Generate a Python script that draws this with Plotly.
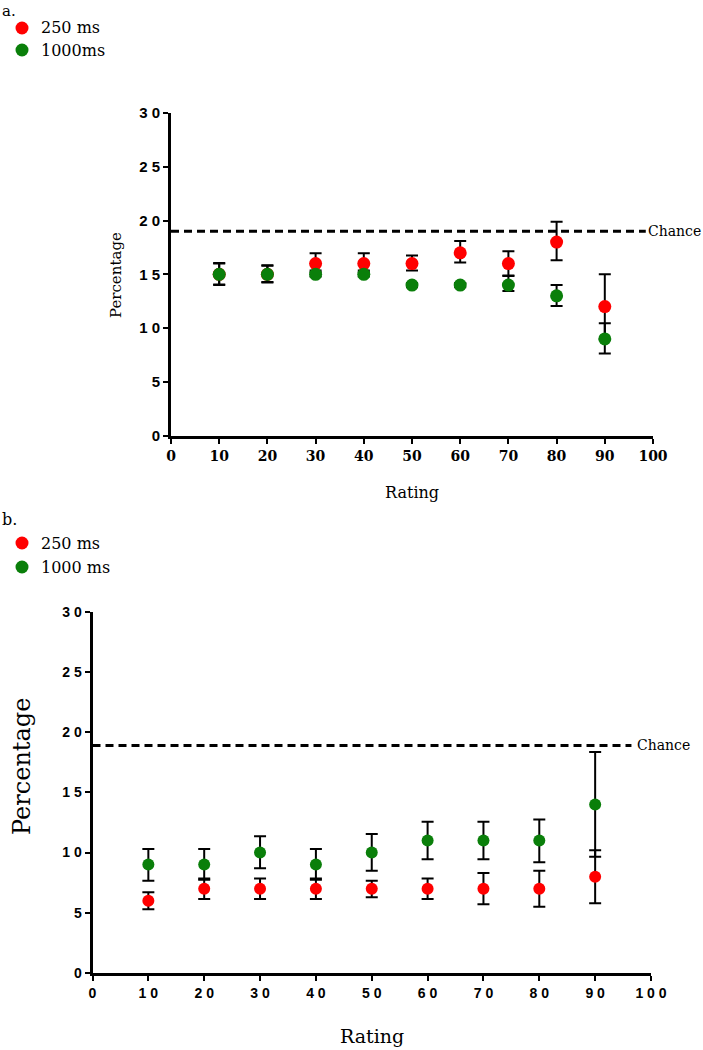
import plotly.graph_objects as go

rating = [10, 20, 30, 40, 50, 60, 70, 80, 90]

# Panel a
a_250 = [15, 15, 16, 16, 16, 17, 16, 18, 12]
a_250_up = [1.0, 0.85, 0.95, 0.95, 0.75, 1.1, 1.15, 1.9, 3.0]
a_250_dn = [1.0, 0.7, 0.65, 0.65, 0.65, 0.9, 1.15, 1.7, 3.0]
a_1000 = [15, 15, 15, 15, 14, 14, 14, 13, 9]
a_1000_up = [1.05, 0.8, 0.2, 0.2, 0.2, 0.2, 0.9, 1.0, 1.45]
a_1000_dn = [0.95, 0.75, 0.2, 0.2, 0.2, 0.2, 0.55, 0.95, 1.35]

# Panel b
b_250 = [6, 7, 7, 7, 7, 7, 7, 7, 8]
b_250_up = [0.7, 0.85, 0.85, 0.85, 0.65, 0.85, 1.3, 1.5, 2.2]
b_250_dn = [0.7, 0.85, 0.85, 0.85, 0.7, 0.85, 1.3, 1.5, 2.2]
b_1000 = [9, 9, 10, 9, 10, 11, 11, 11, 14]
b_1000_up = [1.3, 1.3, 1.35, 1.3, 1.55, 1.55, 1.55, 1.75, 4.35]
b_1000_dn = [1.35, 1.25, 1.3, 1.25, 1.5, 1.55, 1.55, 1.8, 4.35]

chance_a = 19.0
chance_b = 18.9

legend_a = ["250 ms", "1000ms"]
legend_b = ["250 ms", "1000 ms"]

y_ticks = [0, 5, 10, 15, 20, 25, 30]
y_ticktext = ["0", "5", "1 0", "1 5", "2 0", "2 5", "3 0"]
x_ticks = [0, 10, 20, 30, 40, 50, 60, 70, 80, 90, 100]
xa_ticktext = ["0", "10", "20", "30", "40", "50", "60", "70", "80", "90", "100"]
xb_ticktext = ["0", "1 0", "2 0", "3 0", "4 0", "5 0", "6 0", "7 0", "8 0", "9 0", "1 0 0"]

RED = "#ff0000"
GREEN = "#0a7f0a"
W, H = 703, 1050
SERIF = "DejaVu Serif"
SANS = "Liberation Sans"


def err(up, dn):
    return dict(type="data", symmetric=False, array=up, arrayminus=dn,
                color="black", thickness=2, width=6)


fig = go.Figure()
fig.add_trace(go.Scatter(x=rating, y=a_250, mode="markers", name=legend_a[0],
                         marker=dict(color=RED, size=13), error_y=err(a_250_up, a_250_dn),
                         xaxis="x", yaxis="y"))
fig.add_trace(go.Scatter(x=rating, y=a_1000, mode="markers", name=legend_a[1],
                         marker=dict(color=GREEN, size=13), error_y=err(a_1000_up, a_1000_dn),
                         xaxis="x", yaxis="y"))
fig.add_trace(go.Scatter(x=rating, y=b_250, mode="markers", name=legend_b[0],
                         marker=dict(color=RED, size=12), error_y=err(b_250_up, b_250_dn),
                         xaxis="x2", yaxis="y2"))
fig.add_trace(go.Scatter(x=rating, y=b_1000, mode="markers", name=legend_b[1],
                         marker=dict(color=GREEN, size=12), error_y=err(b_1000_up, b_1000_dn),
                         xaxis="x2", yaxis="y2"))

# Legend key markers on an overlay pixel axis
leg_x = [22, 22, 22, 22]
leg_y = [28, 50, 543, 567]
leg_col = [RED, GREEN, RED, GREEN]
fig.add_trace(go.Scatter(x=leg_x, y=leg_y, mode="markers",
                         marker=dict(color=leg_col, size=13),
                         xaxis="x3", yaxis="y3", hoverinfo="skip"))

axis_common = dict(showline=True, linewidth=3, linecolor="black", showgrid=False,
                   zeroline=False, ticks="outside", ticklen=5, tickwidth=2,
                   tickcolor="black", tickmode="array", automargin=False)

fig.update_layout(
    width=W, height=H, autosize=False,
    margin=dict(l=0, r=0, t=0, b=0, pad=0),
    paper_bgcolor="white", plot_bgcolor="rgba(0,0,0,0)",
    showlegend=False,
    xaxis=dict(axis_common, domain=[171 / W, 653 / W], range=[0, 100], anchor="y",
               tickvals=x_ticks, ticktext=xa_ticktext,
               tickfont=dict(family=SERIF, size=14, color="black", weight="bold")),
    yaxis=dict(axis_common, domain=[1 - 435.7 / H, 1 - 113 / H], range=[0, 30], anchor="x",
               tickvals=y_ticks, ticktext=y_ticktext,
               tickfont=dict(family=SANS, size=15, color="black", weight="bold")),
    xaxis2=dict(axis_common, domain=[92.5 / W, 651 / W], range=[0, 100], anchor="y2",
                tickvals=x_ticks, ticktext=xb_ticktext,
                tickfont=dict(family=SANS, size=14, color="black", weight="bold")),
    yaxis2=dict(axis_common, domain=[1 - 973 / H, 1 - 611.7 / H], range=[0, 30], anchor="x2",
                tickvals=y_ticks, ticktext=y_ticktext,
                tickfont=dict(family=SANS, size=14, color="black", weight="bold")),
    xaxis3=dict(domain=[0, 1], range=[0, W], visible=False, anchor="y3", automargin=False),
    yaxis3=dict(domain=[0, 1], range=[H, 0], visible=False, anchor="x3", automargin=False),
)

# Chance lines
fig.add_shape(type="line", xref="x", yref="y", x0=0, x1=98.5, y0=chance_a, y1=chance_a,
              line=dict(color="black", width=3, dash="8px,5px"))
fig.add_shape(type="line", xref="x2", yref="y2", x0=0, x1=96.5, y0=chance_b, y1=chance_b,
              line=dict(color="black", width=3, dash="8px,5px"))

ann = []
ann.append(dict(x=98.5, y=chance_a, xref="x", yref="y", text="Chance", showarrow=False,
                xanchor="left", yanchor="middle", xshift=0,
                font=dict(family=SERIF, size=14, color="black")))
ann.append(dict(x=96.5, y=chance_b, xref="x2", yref="y2", text="Chance", showarrow=False,
                xanchor="left", yanchor="middle", xshift=4,
                font=dict(family=SERIF, size=14, color="black")))
# Panel labels
ann.append(dict(x=0, y=1 - 0 / H, xref="paper", yref="paper", text="a.", showarrow=False,
                xanchor="left", yanchor="top", font=dict(family=SERIF, size=15, color="black")))
ann.append(dict(x=0, y=1 - 508 / H, xref="paper", yref="paper", text="b.", showarrow=False,
                xanchor="left", yanchor="top", font=dict(family=SERIF, size=16, color="black")))
# Legend texts
for txt, yy in zip(legend_a + legend_b, leg_y):
    ann.append(dict(x=39 / W, y=1 - yy / H, xref="paper", yref="paper", text=txt,
                    showarrow=False, xanchor="left", yanchor="middle",
                    font=dict(family=SERIF, size=16, color="black")))
# Axis titles
ann.append(dict(x=412 / W, y=1 - 493 / H, xref="paper", yref="paper", text="Rating",
                showarrow=False, xanchor="center", yanchor="middle",
                font=dict(family=SERIF, size=16, color="black")))
ann.append(dict(x=116 / W, y=1 - 275 / H, xref="paper", yref="paper", text="Percentage",
                showarrow=False, xanchor="center", yanchor="middle", textangle=-90,
                font=dict(family=SERIF, size=15, color="black")))
ann.append(dict(x=372 / W, y=1 - 1036 / H, xref="paper", yref="paper", text="Rating",
                showarrow=False, xanchor="center", yanchor="middle",
                font=dict(family=SERIF, size=19, color="black")))
ann.append(dict(x=22 / W, y=1 - 767 / H, xref="paper", yref="paper", text="Percentage",
                showarrow=False, xanchor="center", yanchor="middle", textangle=-90,
                font=dict(family=SERIF, size=24, color="black")))
fig.update_layout(annotations=ann)

fig.write_html("out.html", config={"displayModeBar": False},
               post_script="document.body.style.margin='0px';")
